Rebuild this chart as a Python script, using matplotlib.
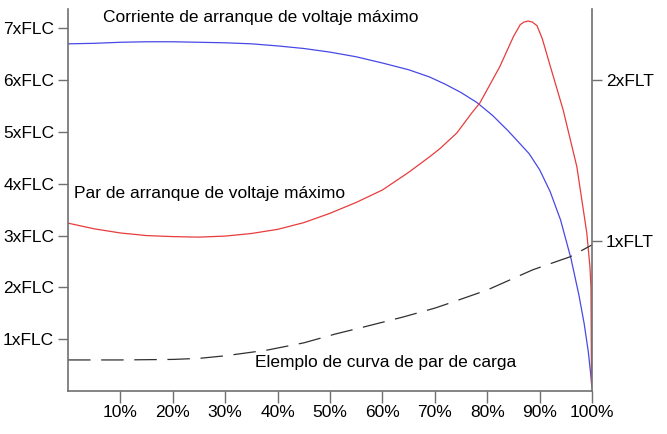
import matplotlib.pyplot as plt
import numpy as np

plt.rcParams['font.family'] = ['Liberation Sans', 'DejaVu Sans']

# corriente de arranque (x en %, y en múltiplos de FLC)
corriente_x = [0, 5, 10, 15, 20, 25, 30, 35, 40, 45, 50, 55, 60, 65, 69, 72, 75, 78, 81, 84,
               86, 88, 90, 92, 94, 96, 97.5, 98.5, 99.3, 100]
corriente_y = [6.70, 6.71, 6.73, 6.74, 6.74, 6.73, 6.72, 6.70, 6.66, 6.61, 6.54, 6.45, 6.33, 6.20,
               6.06, 5.92, 5.76, 5.57, 5.32, 5.02, 4.80, 4.58, 4.27, 3.85, 3.30, 2.55, 1.85, 1.30,
               0.75, 0.08]

# par de arranque
par_x = [0, 5, 10, 15, 20, 25, 30, 35, 40, 45, 50, 55, 60, 65, 69, 71, 74.2, 77, 78.6, 82.4, 85,
         86.3, 87.0, 87.8, 88.6, 89.5, 90.5, 92, 94.5, 97.1, 99.0, 99.6, 99.8, 99.9]
par_y = [3.24, 3.13, 3.05, 3.00, 2.98, 2.97, 2.99, 3.04, 3.12, 3.25, 3.43, 3.64, 3.88, 4.22,
         4.52, 4.68, 4.98, 5.36, 5.56, 6.26, 6.84, 7.07, 7.12, 7.14, 7.12, 7.05, 6.80, 6.28,
         5.42, 4.33, 3.05, 2.40, 2.00, 0.15]

# ejemplo de curva de par de carga
carga_x = [0, 10, 20, 25, 30, 38, 45, 51, 57, 64, 70, 73.5, 80, 88.7, 95.8, 100]
carga_y = [0.60, 0.60, 0.61, 0.63, 0.68, 0.79, 0.93, 1.10, 1.25, 1.43, 1.60, 1.72, 1.95, 2.34,
           2.59, 2.82]

x_ticks = [10, 20, 30, 40, 50, 60, 70, 80, 90, 100]
x_labels = ['10%', '20%', '30%', '40%', '50%', '60%', '70%', '80%', '90%', '100%']
flc_ticks = [1, 2, 3, 4, 5, 6, 7]
flc_labels = ['1xFLC', '2xFLC', '3xFLC', '4xFLC', '5xFLC', '6xFLC', '7xFLC']
flt_ticks = [2.90, 6.00]
flt_labels = ['1xFLT', '2xFLT']

fig = plt.figure(figsize=(6.67, 4.34), dpi=100)
ax = fig.add_axes([0.102, 0.099, 0.7856, 0.880])

ax.plot(corriente_x, corriente_y, color='#4848e6', lw=0.9)
ax.plot(par_x, par_y, color='#e83c3c', lw=0.9)
ax.plot(carga_x, carga_y, color='#303030', lw=0.9, dashes=(18, 8.5))

ax.set_xlim(0, 100)
ax.set_ylim(0, 7.37)

spine_color = '#707070'
for s in ['top', 'right']:
    ax.spines[s].set_visible(False)
for s in ['left', 'bottom']:
    ax.spines[s].set_color(spine_color)
    ax.spines[s].set_linewidth(1.2)

ax.set_xticks(x_ticks)
ax.set_xticklabels(x_labels)
ax.set_yticks(flc_ticks)
ax.set_yticklabels(flc_labels)
ax.tick_params(axis='x', length=8.5, width=1, color=spine_color, labelsize=12.5, pad=1.5)
ax.tick_params(axis='y', length=7, width=1, color=spine_color, labelsize=12.5, pad=3)

# eje derecho (par)
ax2 = ax.twinx()
ax2.set_ylim(ax.get_ylim())
ax2.set_yticks(flt_ticks)
ax2.set_yticklabels(flt_labels)
for s in ['top', 'left', 'bottom']:
    ax2.spines[s].set_visible(False)
ax2.spines['right'].set_color(spine_color)
ax2.spines['right'].set_linewidth(1.2)
ax2.tick_params(axis='y', length=7, width=1, color=spine_color, labelsize=12.5, pad=3)

# textos
ax.text(6.7, 7.2, 'Corriente de arranque de voltaje máximo', fontsize=12.5, va='center')
ax.text(1.1, 3.82, 'Par de arranque de voltaje máximo', fontsize=12.5, va='center')
ax.text(35.7, 0.56, 'Elemplo de curva de par de carga', fontsize=12.5, va='center')

plt.savefig('out.png', dpi=100)
plt.close()
